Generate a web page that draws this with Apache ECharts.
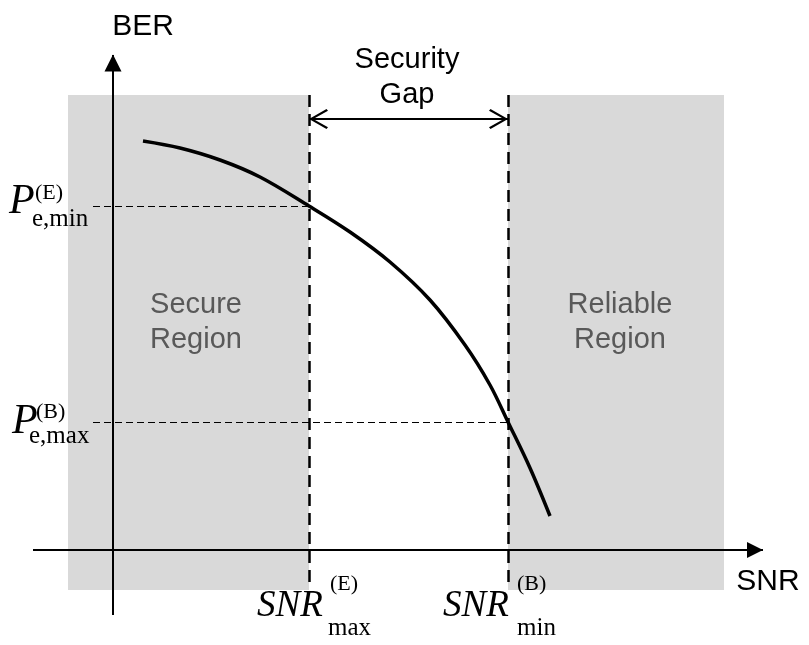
<!DOCTYPE html>
<html>
<head>
<meta charset="utf-8">
<script src="https://cdn.jsdelivr.net/npm/echarts@6/dist/echarts.min.js"></script>
<style>
  html, body { margin: 0; padding: 0; background: #fff; }
  #chart { width: 809px; height: 645px; }
</style>
</head>
<body>
<div id="chart"></div>
<script>
// BER curve (conceptual units, origin at the axes crossing)
const snr = [3.0, 6.7, 10.7, 14.7, 19.6, 23.7, 27.7, 31.7, 35.2, 37.7, 39.5, 41.7, 43.7]
const ber = [40.9, 40.2, 39.0, 37.3, 34.4, 31.8, 28.8, 25.0, 20.5, 16.5, 12.8, 8.2, 3.4]

// thresholds
const snrMaxE = 19.6
const snrMinB = 39.5
const peMinE = 34.4
const peMaxB = 12.8

// shaded regions
const secureRegion = [-4.5, snrMaxE]
const reliableRegion = [snrMinB, 61.1]
const regionBER = [-4, 45.5]

// axes extents
const xAxisSpan = [-8, 65]
const yAxisSpan = [-6.5, 49.5]
const gapLevel = 43.1
const dashStart = -2

var myChart = echarts.init(document.getElementById('chart'))

const serif = '"Liberation Serif", "DejaVu Serif", serif'
const sans = '"Liberation Sans", Arial, sans-serif'

// 开口箭头（带一小段箭杆）
const chevron = 'path://M10,0 L20,17.5 L18.2,19 L10.9,6 L10.9,20 L9.1,20 L9.1,6 L1.8,19 L0,17.5 Z'

function txt(text, x, y, size, opts) {
  return {
    type: 'text',
    z: 100,
    x: x,
    y: y,
    style: Object.assign({
      text: text,
      font: size + 'px ' + serif,
      fill: '#000',
      align: 'left',
      verticalAlign: 'middle'
    }, opts || {})
  }
}

var option = {
  animation: false,
  grid: { left: 13, right: 6, top: 0, bottom: 0 },
  xAxis: { type: 'value', min: -10, max: 69, show: false },
  yAxis: { type: 'value', min: -9.5, max: 55, show: false },
  graphic: [
    txt('BER', 143, 27, 30, { font: '30px ' + sans, align: 'center' }),
    txt('SNR', 768, 582, 30, { font: '30px ' + sans, align: 'center' }),
    txt('Security\nGap', 407, 77, 29, { font: '29px ' + sans, align: 'center', lineHeight: 35 }),
    txt('Secure\nRegion', 196, 322, 29, { font: '29px ' + sans, align: 'center', lineHeight: 35, fill: '#595959' }),
    txt('Reliable\nRegion', 620, 322, 29, { font: '29px ' + sans, align: 'center', lineHeight: 35, fill: '#595959' }),
    // P_e,min^(E)
    txt('P', 9, 202, 42, { font: 'italic 42px ' + serif }),
    txt('(E)', 35, 193, 22),
    txt('e,min', 32, 219, 25),
    // P_e,max^(B)
    txt('P', 12, 422, 42, { font: 'italic 42px ' + serif }),
    txt('(B)', 36, 412, 22),
    txt('e,max', 29, 436, 25),
    // SNR_max^(E)
    txt('SNR', 257, 606, 37, { font: 'italic 37px ' + serif }),
    txt('(E)', 330, 584, 22),
    txt('max', 328, 628, 25),
    // SNR_min^(B)
    txt('SNR', 443, 606, 37, { font: 'italic 37px ' + serif }),
    txt('(B)', 517, 584, 22),
    txt('min', 517, 628, 25)
  ],
  series: [
    {
      // 灰色区域
      type: 'line',
      z: 1,
      data: [],
      markArea: {
        silent: true,
        itemStyle: { color: '#d9d9d9' },
        data: [
          [{ coord: [secureRegion[0], regionBER[1]] }, { coord: [secureRegion[1], regionBER[0]] }],
          [{ coord: [reliableRegion[0], regionBER[1]] }, { coord: [reliableRegion[1], regionBER[0]] }]
        ]
      }
    },
    {
      type: 'line',
      z: 3,
      data: snr.map((x, i) => [x, ber[i]]),
      smooth: 0.35,
      showSymbol: false,
      lineStyle: { color: '#000', width: 3.5 },
      markLine: {
        silent: true,
        symbol: 'none',
        label: { show: false },
        emphasis: { disabled: true },
        data: [
          // axes
          [
            { coord: [0, yAxisSpan[0]], lineStyle: { color: '#000', width: 2, type: 'solid' } },
            { coord: [0, yAxisSpan[1]], symbol: 'triangle', symbolSize: [17, 17], symbolOffset: [0, 8] }
          ],
          [
            { coord: [xAxisSpan[0], 0], lineStyle: { color: '#000', width: 2, type: 'solid' } },
            { coord: [xAxisSpan[1], 0], symbol: 'triangle', symbolSize: [16, 16], symbolOffset: [0, 8] }
          ],
          // threshold verticals
          [
            { coord: [snrMaxE, regionBER[1]], lineStyle: { color: '#000', width: 2.5, type: [12, 7] } },
            { coord: [snrMaxE, -3.8] }
          ],
          [
            { coord: [snrMinB, regionBER[1]], lineStyle: { color: '#000', width: 2.5, type: [12, 7] } },
            { coord: [snrMinB, -3.8] }
          ],
          // BER levels
          [
            { coord: [dashStart, peMinE], lineStyle: { color: '#000', width: 1.2, type: [7, 4] } },
            { coord: [snrMaxE, peMinE] }
          ],
          [
            { coord: [dashStart, peMaxB], lineStyle: { color: '#000', width: 1.2, type: [7, 4] } },
            { coord: [snrMinB, peMaxB] }
          ],
          // security gap
          [
            { coord: [snrMaxE, gapLevel], symbol: chevron, symbolSize: [20, 20], symbolOffset: [0, 10],
              lineStyle: { color: '#000', width: 2, type: 'solid' } },
            { coord: [snrMinB, gapLevel], symbol: chevron, symbolSize: [20, 20], symbolOffset: [0, 10] }
          ]
        ]
      }
    }
  ]
}

myChart.setOption(option)
</script>
</body>
</html>
